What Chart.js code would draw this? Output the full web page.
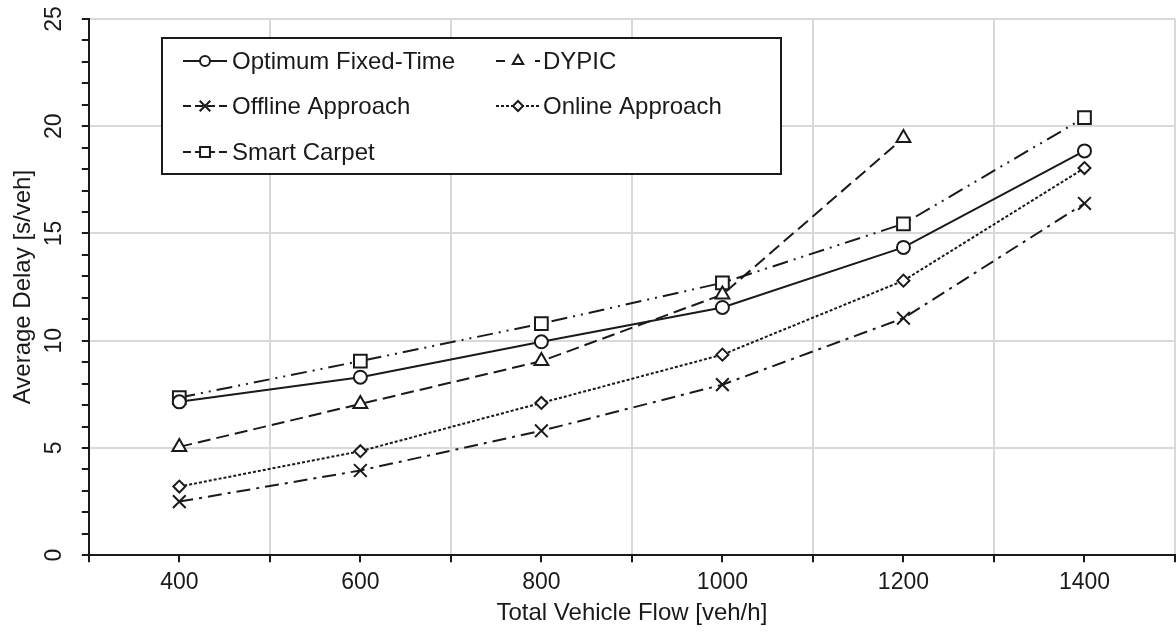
<!DOCTYPE html>
<html>
<head>
<meta charset="utf-8">
<script src="https://cdn.jsdelivr.net/npm/chart.js@4/dist/chart.umd.min.js"></script>
<style>
  html, body { margin: 0; padding: 0; background: #ffffff; }
  #wrap { width: 1176px; height: 633px; position: relative; }
</style>
</head>
<body>
<div id="wrap"><canvas id="c" width="1176" height="633"></canvas></div>
<script>
// ---- Data ----
const flows = [400, 600, 800, 1000, 1200, 1400];
const optimumFixedTime = [7.15, 8.3, 9.95, 11.55, 14.35, 18.85];
const dypic = [5.05, 7.05, 9.05, 12.15, 19.45, null];
const offlineApproach = [2.5, 3.95, 5.8, 7.95, 11.05, 16.4];
const onlineApproach = [3.2, 4.85, 7.1, 9.35, 12.8, 18.05];
const smartCarpet = [7.35, 9.05, 10.8, 12.7, 15.45, 20.4];
const seriesNames = ["Optimum Fixed-Time", "DYPIC", "Offline Approach", "Online Approach", "Smart Carpet"];
const xTickLabels = [400, 600, 800, 1000, 1200, 1400];
const yTickLabels = [0, 5, 10, 15, 20, 25];

const FONT = "'Liberation Sans', Arial, sans-serif";
const INK = '#1a1a1a';

function pts(vals) { return flows.map((x, i) => ({ x: x, y: vals[i] })); }

const styles = [
  { dash: [], point: 'circle', r: 6.5, lr: 5 },
  { dash: [13, 6], point: 'triangle', r: 8, lr: 6 },
  { dash: [14, 6, 3, 6], point: 'crossRot', r: 9, lr: 7.5 },
  { dash: [3, 2], point: 'rectRot', r: 6, lr: 5 },
  { dash: [16, 6, 2, 6, 2, 6], point: 'rect', r: 9, lr: 7 }
];
const seriesValues = [optimumFixedTime, dypic, offlineApproach, onlineApproach, smartCarpet];

const datasets = seriesValues.map((vals, i) => ({
  label: seriesNames[i],
  data: pts(vals),
  borderColor: INK,
  backgroundColor: '#ffffff',
  borderWidth: 2,
  borderDash: styles[i].dash,
  pointStyle: styles[i].point,
  pointRadius: styles[i].r,
  pointBorderWidth: 2,
  pointBorderColor: INK,
  pointBackgroundColor: '#ffffff',
  pointHoverRadius: styles[i].r,
  tension: 0,
  fill: false,
  spanGaps: false
}));

// Tick labels drawn through the scales' own value->pixel mapping
const tickText = {
  id: 'tickText',
  afterDraw(chart) {
    const ctx = chart.ctx;
    const xs = chart.scales.x, ys = chart.scales.y;
    ctx.save();
    ctx.fillStyle = INK;
    ctx.font = '23px ' + FONT;
    ctx.textAlign = 'center';
    ctx.textBaseline = 'middle';
    xTickLabels.forEach(v => {
      ctx.fillText(String(v), xs.getPixelForValue(v), ys.bottom + 27);
    });
    yTickLabels.forEach(v => {
      ctx.save();
      ctx.translate(xs.left - 35, ys.getPixelForValue(v));
      ctx.rotate(-Math.PI / 2);
      ctx.fillText(String(v), 0, 1);
      ctx.restore();
    });
    ctx.restore();
  }
};

const boxLegend = {
  id: 'boxLegend',
  afterDatasetsDraw(chart) {
    const ctx = chart.ctx;
    const box = { x: 162, y: 38, w: 619, h: 136 };
    ctx.save();
    ctx.fillStyle = '#ffffff';
    ctx.fillRect(box.x, box.y, box.w, box.h);
    ctx.strokeStyle = INK;
    ctx.lineWidth = 2;
    ctx.setLineDash([]);
    ctx.strokeRect(box.x, box.y, box.w, box.h);
    const colX = [183, 496];
    const rowY = [61, 106, 152];
    chart.data.datasets.forEach((ds, i) => {
      const col = i % 2, row = Math.floor(i / 2);
      const x0 = colX[col], y = rowY[row];
      const sw = 44;
      ctx.strokeStyle = INK;
      ctx.lineWidth = 2;
      const d = ds.borderDash || [];
      let dash = d.length ? (d.length === 2 && d[0] < 5 ? d : [8, 4]) : [];
      if (i === 1) dash = [9, 30];
      ctx.setLineDash(dash);
      ctx.beginPath();
      ctx.moveTo(x0, y);
      ctx.lineTo(x0 + sw, y);
      ctx.stroke();
      ctx.setLineDash([]);
      ctx.fillStyle = '#ffffff';
      ctx.strokeStyle = INK;
      ctx.lineWidth = 2;
      Chart.helpers.drawPoint(ctx, { pointStyle: ds.pointStyle, radius: styles[i].lr, rotation: 0, borderWidth: 2 }, x0 + sw / 2, y);
      ctx.fillStyle = INK;
      ctx.font = '24px ' + FONT;
      ctx.textBaseline = 'middle';
      ctx.textAlign = 'left';
      ctx.fillText(ds.label, x0 + sw + (col === 0 ? 5 : 3), y + 1);
    });
    ctx.restore();
  }
};

new Chart(document.getElementById('c'), {
  type: 'line',
  data: { datasets: datasets },
  plugins: [boxLegend, tickText],
  options: {
    responsive: false,
    animation: false,
    events: [],
    layout: { autoPadding: false, padding: { top: 19, right: 1, bottom: 0, left: 3 } },
    plugins: { legend: { display: false }, tooltip: { enabled: false } },
    scales: {
      x: {
        type: 'linear',
        min: 300, max: 1500,
        border: { display: true, color: INK, width: 2 },
        grid: {
          color: (c) => (c.tick && c.tick.value % 200 === 100 && c.tick.value !== 300) ? '#d9d9d9' : 'rgba(0,0,0,0)',
          lineWidth: 2,
          tickColor: INK,
          tickLength: 7,
          tickWidth: 2,
          drawTicks: true
        },
        ticks: {
          display: false,
          stepSize: 100,
          autoSkip: false,
          maxTicksLimit: 100
        },
        title: {
          display: true,
          text: 'Total Vehicle Flow [veh/h]',
          color: INK,
          font: { family: FONT, size: 24 },
          padding: { top: 37, bottom: 5 }
        }
      },
      y: {
        type: 'linear',
        min: 0, max: 25,
        border: { display: true, color: INK, width: 2 },
        grid: {
          color: (c) => (c.tick && c.tick.value % 5 === 0) ? '#d9d9d9' : 'rgba(0,0,0,0)',
          lineWidth: 2,
          tickColor: INK,
          tickLength: 7,
          tickWidth: 2,
          drawTicks: true
        },
        ticks: {
          display: false,
          stepSize: 1,
          autoSkip: false,
          maxTicksLimit: 100
        },
        title: {
          display: true,
          text: 'Average Delay [s/veh]',
          color: INK,
          font: { family: FONT, size: 24 },
          padding: { top: 6, bottom: 44 }
        }
      }
    }
  }
});
</script>
</body>
</html>
